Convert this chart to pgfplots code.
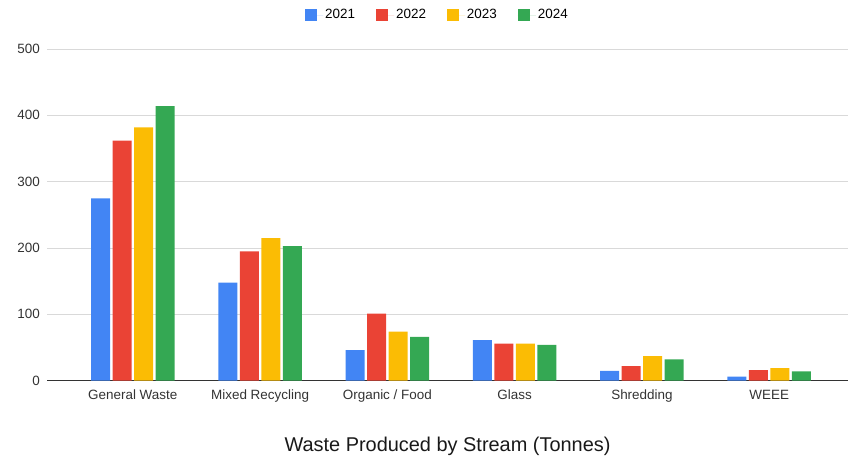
\documentclass[border=0pt]{standalone}
\usepackage{fontspec}
\setmainfont{Liberation Sans}
\usepackage{pgfplots}
\pgfplotsset{compat=1.18}

\definecolor{gblue}{HTML}{4285F4}
\definecolor{gred}{HTML}{EA4335}
\definecolor{gyellow}{HTML}{FBBC04}
\definecolor{ggreen}{HTML}{34A853}
\definecolor{gridgray}{HTML}{D9D9D9}
\definecolor{labelgray}{HTML}{333333}

\begin{document}
\begin{tikzpicture}
% page size = 849 x 460, axis box lower left at (0,0)
\path[use as bounding box] (-47.5bp,-79.3bp) rectangle (801.5bp,380.7bp);
\begin{axis}[
    scale only axis,
    width=800bp, height=331.7bp,
    ybar=2.5bp,
    bar width=19bp,
    xmin=-0.67, xmax=5.615,
    ymin=0, ymax=500,
    ytick={0,100,...,500},
    xtick=data,
    xticklabels={General Waste, Mixed Recycling, Organic / Food, Glass, Shredding, WEEE},
    major tick length=0pt,
    axis x line*=bottom,
    axis y line*=left,
    y axis line style={draw=none},
    x axis line style={draw=labelgray, line width=0.9bp},
    ymajorgrids,
    grid style={draw=gridgray, line width=0.8bp},
    /pgf/number format/assume math mode=true,
    ticklabel style={font=\fontsize{13.5}{15}\selectfont, text=labelgray},
    yticklabel style={inner sep=0pt, xshift=-7.5bp},
    xticklabel style={inner sep=0pt, anchor=north, yshift=-8.6bp, text height=10bp},
    ytick style={draw=none},
    xlabel={Waste Produced by Stream (Tonnes)},
    xlabel style={font=\fontsize{20}{23}\selectfont, text=black!90,
                  at={(axis description cs:0.5,0)}, anchor=base, yshift=-71bp, inner sep=0pt},
    legend style={at={(rel axis cs:0.4875,1.1025)}, anchor=center, draw=none,
                  legend columns=-1, font=\fontsize{13.5}{15}\selectfont,
                  /tikz/every even column/.append style={column sep=19bp}},
    legend image code/.code={\fill[#1,draw=none] (0bp,-6bp) rectangle (12bp,6bp);
                             \path (0bp,0bp) -- (18bp,0bp);},
    every axis plot/.append style={draw=none},
    enlarge x limits=false,
]
\addplot[fill=gblue] coordinates {(0,275) (1,148) (2,46) (3,61) (4,15) (5,6)};
\addplot[fill=gred] coordinates {(0,362) (1,195) (2,101) (3,56) (4,22) (5,16)};
\addplot[fill=gyellow] coordinates {(0,382) (1,215) (2,74) (3,56) (4,37) (5,19)};
\addplot[fill=ggreen] coordinates {(0,414) (1,203) (2,66) (3,54) (4,32) (5,14)};
\legend{2021,2022,2023,2024}
\end{axis}
\end{tikzpicture}
\end{document}
